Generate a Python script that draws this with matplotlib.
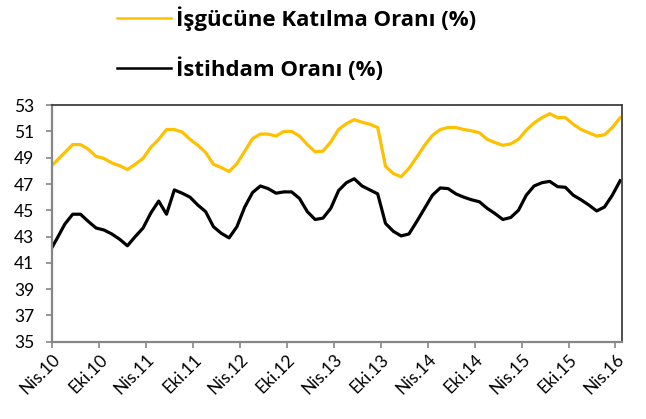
import numpy as np
import matplotlib.pyplot as plt
from matplotlib.lines import Line2D

plt.rcParams['font.family'] = ['Lato', 'DejaVu Sans']

# aylik seriler, Mart 2010 - Nisan 2016 (ilk nokta eksenin solunda kalir)
isgucu = [48.2, 48.8, 49.4, 50.0, 50.0, 49.65, 49.1, 48.95, 48.6, 48.4,
          48.1, 48.5, 48.95, 49.8, 50.4, 51.15, 51.15, 50.95, 50.4, 49.95,
          49.4, 48.5, 48.25, 47.95, 48.55, 49.5, 50.45, 50.8, 50.8, 50.65,
          51.0, 51.0, 50.65, 50.0, 49.45, 49.5, 50.2, 51.15, 51.6, 51.9,
          51.7, 51.55, 51.3, 48.35, 47.8, 47.55, 48.2, 49.05, 49.95, 50.7,
          51.15, 51.3, 51.3, 51.15, 51.05, 50.9, 50.4, 50.15, 49.95, 50.05,
          50.4, 51.1, 51.65, 52.05, 52.35, 52.05, 52.05, 51.55, 51.15, 50.9,
          50.65, 50.75, 51.3, 52.05]
istihdam = [41.8, 42.85, 43.95, 44.7, 44.7, 44.15, 43.65, 43.5, 43.2, 42.8,
            42.3, 43.0, 43.65, 44.8, 45.7, 44.7, 46.55, 46.3, 46.0, 45.4,
            44.9, 43.75, 43.25, 42.9, 43.75, 45.25, 46.35, 46.85, 46.65, 46.3,
            46.4, 46.4, 45.9, 44.9, 44.3, 44.4, 45.15, 46.5, 47.1, 47.4,
            46.85, 46.55, 46.25, 44.0, 43.4, 43.05, 43.2, 44.15, 45.15, 46.15,
            46.7, 46.65, 46.25, 46.0, 45.8, 45.65, 45.15, 44.75, 44.3, 44.45,
            45.0, 46.15, 46.85, 47.1, 47.2, 46.8, 46.75, 46.15, 45.8, 45.4,
            44.95, 45.25, 46.15, 47.25]
tick_labels = ['Nis.10', 'Eki.10', 'Nis.11', 'Eki.11', 'Nis.12', 'Eki.12',
               'Nis.13', 'Eki.13', 'Nis.14', 'Eki.14', 'Nis.15', 'Eki.15',
               'Nis.16']
yticks = list(range(35, 54, 2))

# veri noktalari ay icinde, etiket tiklerinin biraz sagina dusuyor
x = np.arange(len(isgucu)) - 1 + 0.6

fig = plt.figure(figsize=(6.46, 4.19), dpi=100)
ax = fig.add_axes([0.081, 0.1845, 0.882, 0.5645])

ax.plot(x, isgucu, color='#FFC000', lw=2.3, solid_joinstyle='round')
ax.plot(x, istihdam, color='black', lw=2.3, solid_joinstyle='round')

ax.set_xlim(0, 72.85)
ax.set_ylim(35, 53)
ax.set_yticks(yticks)
ax.set_xticks(np.arange(0, 73, 6))
ax.set_xticklabels(tick_labels, rotation=45, ha='right',
                   rotation_mode='anchor')
ax.tick_params(axis='both', labelsize=12.5, length=4, width=1.2,
               color='#868686', direction='out')
ax.tick_params(axis='x', pad=3)
ax.tick_params(axis='y', pad=9)

for s in ['top', 'right']:
    ax.spines[s].set_color('#404040')
    ax.spines[s].set_linewidth(1.3)
for s in ['left', 'bottom']:
    ax.spines[s].set_color('#868686')
    ax.spines[s].set_linewidth(1.6)

handles = [Line2D([], [], color='#FFC000', lw=1.8),
           Line2D([], [], color='black', lw=1.8)]
fig.legend(handles, ['İşgücüne Katılma Oranı (%)', 'İstihdam Oranı (%)'],
           loc='upper left', bbox_to_anchor=(0.15, 1.033), frameon=False,
           prop={'family': 'Open Sans', 'weight': 'bold', 'size': 16},
           handlelength=2.45, handletextpad=0.2, labelspacing=1.2)

plt.savefig('out.png', dpi=100)
